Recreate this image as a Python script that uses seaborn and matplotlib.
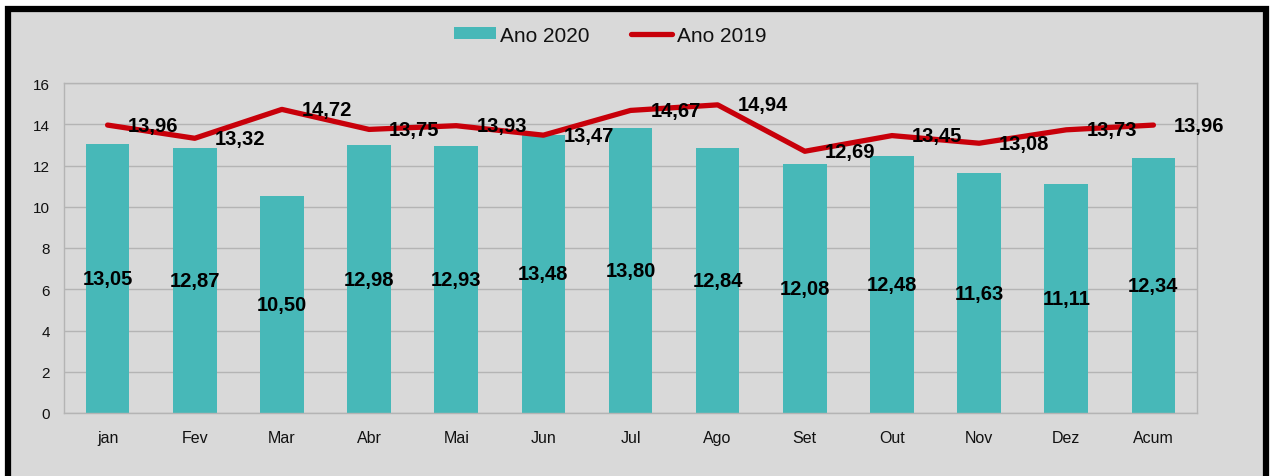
import numpy as np
import pandas as pd
import matplotlib
matplotlib.use("Agg")
import matplotlib.pyplot as plt
import seaborn as sns
from matplotlib.patches import Rectangle, Patch
from matplotlib.lines import Line2D

# dados
meses = ["jan", "Fev", "Mar", "Abr", "Mai", "Jun", "Jul", "Ago", "Set", "Out", "Nov", "Dez", "Acum"]
ano_2020 = [13.05, 12.87, 10.50, 12.98, 12.93, 13.48, 13.80, 12.84, 12.08, 12.48, 11.63, 11.11, 12.34]
ano_2019 = [13.96, 13.32, 14.72, 13.75, 13.93, 13.47, 14.67, 14.94, 12.69, 13.45, 13.08, 13.73, 13.96]

teal = "#47B8B8"
red = "#C8000A"
bg = "#D9D9D9"
grid = "#B4B4B4"

sns.set_style("white")
plt.rcParams["font.family"] = ["Liberation Sans", "DejaVu Sans"]
plt.rcParams["text.color"] = "black"

df = pd.DataFrame({"mes": meses, "2020": ano_2020, "2019": ano_2019})

fig = plt.figure(figsize=(12.71, 4.77), dpi=100, facecolor="white")
# moldura preta
fig.patches.append(Rectangle((8 / 1271, -0.05), 1258 / 1271, 1.05 - 10 / 477,
                             transform=fig.transFigure, facecolor=bg,
                             edgecolor="black", linewidth=4.5, zorder=-5))

ax = fig.add_axes([64 / 1271, (477 - 414) / 477, (1197 - 64) / 1271, (414 - 84) / 477])
ax.set_facecolor(bg)

sns.barplot(data=df, x="mes", y="2020", color=teal, width=0.5, saturation=1,
            edgecolor="none", linewidth=0, ax=ax, zorder=2)
sns.lineplot(data=df, x="mes", y="2019", color=red, linewidth=3.8, sort=False, ax=ax, zorder=3)

ax.set_ylim(0, 16)
ax.set_xlim(-0.5, len(meses) - 0.5)
ax.set_yticks(np.arange(0, 17, 2))
ax.yaxis.grid(True, color=grid, linewidth=1)
ax.set_axisbelow(True)
ax.set_xlabel("")
ax.set_ylabel("")
for s in ax.spines.values():
    s.set_color(grid)
    s.set_linewidth(1)

ax.set_xticks(np.arange(-0.5, len(meses), 1), minor=True)
ax.tick_params(axis="x", which="major", length=0, pad=12, labelsize=11.5, labelcolor="#111111")
ax.tick_params(axis="x", which="minor", length=5, color=grid, width=1)
ax.tick_params(axis="y", length=4, color=grid, labelsize=11, labelcolor="#111111", pad=6)

for i, v in enumerate(ano_2020):
    ax.text(i, v / 2, f"{v:.2f}".replace(".", ","), ha="center", va="center",
            fontsize=14.5, fontweight="bold", color="black", zorder=4)
for i, v in enumerate(ano_2019):
    ax.text(i + 0.52, v, f"{v:.2f}".replace(".", ","), ha="center", va="center",
            fontsize=14.5, fontweight="bold", color="black", zorder=4)

handles = [Patch(facecolor=teal, edgecolor="none"),
           Line2D([0], [0], color=red, linewidth=3.8, solid_capstyle="round")]
leg = fig.legend(handles, ["Ano 2020", "Ano 2019"], loc="center", ncol=2,
                 bbox_to_anchor=(610 / 1271, (477 - 36) / 477), frameon=False,
                 fontsize=15, handlelength=2.0, handleheight=0.55, handletextpad=0.2,
                 columnspacing=2.0)
for t in leg.get_texts():
    t.set_color("#111111")

fig.savefig("out.png", dpi=100, facecolor="white")
